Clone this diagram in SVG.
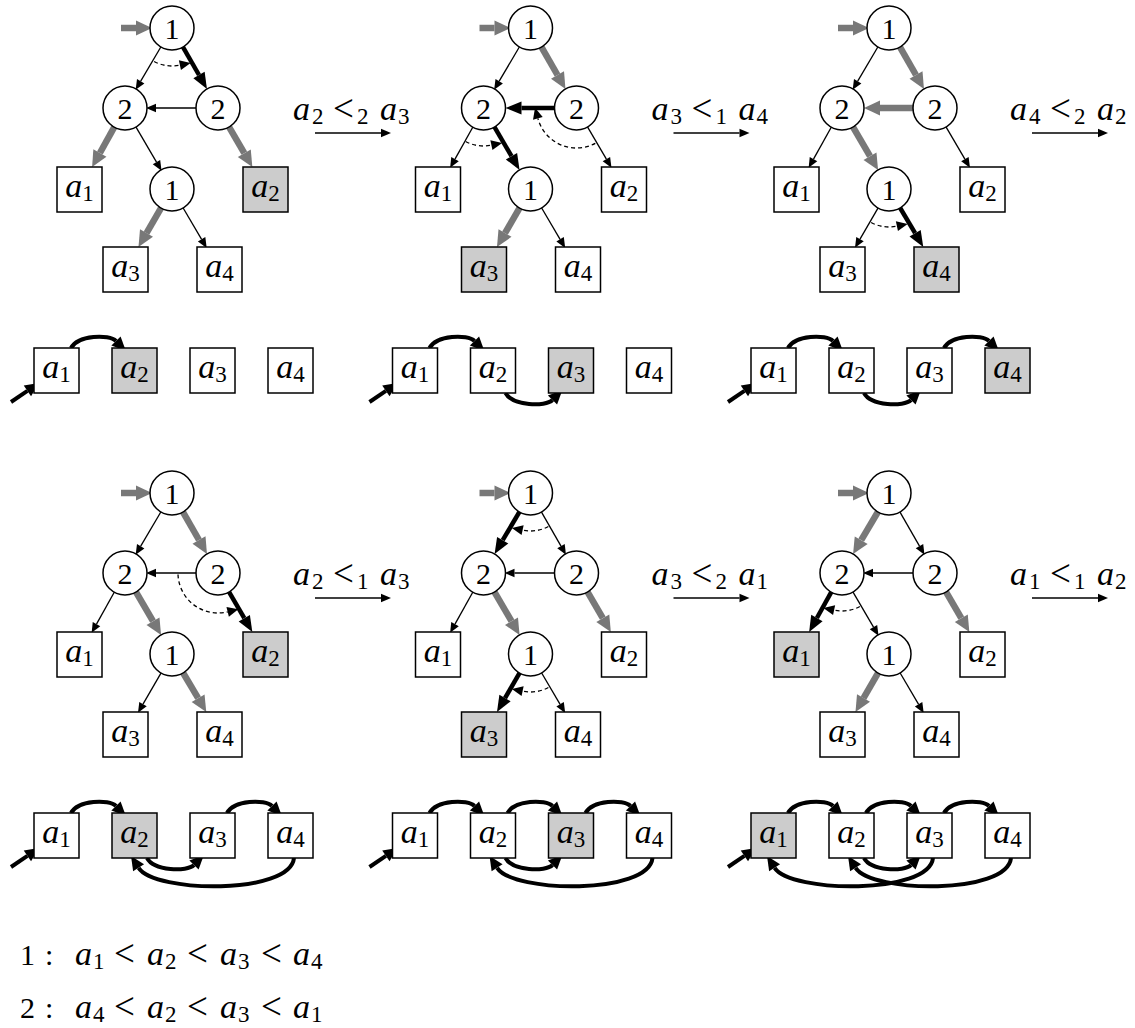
<svg xmlns="http://www.w3.org/2000/svg" width="1135" height="1028" viewBox="0 0 1135 1028">
<defs>
<style>
.c{fill:#fff;stroke:#000;stroke-width:1.5}
.b{fill:#fff;stroke:#000;stroke-width:1.5}
.g{fill:#ccc}
.t{stroke:#000;stroke-width:1.3;fill:none;marker-end:url(#ht)}
.k{stroke:#000;stroke-width:4.5;fill:none;marker-end:url(#hk)}
.y{stroke:#787878;stroke-width:6.5;fill:none;marker-end:url(#hg)}
.d{stroke:#000;stroke-width:1.3;stroke-dasharray:4 3;fill:none;marker-end:url(#hd)}
.l{stroke:#000;stroke-width:4;fill:none;marker-end:url(#hl)}
text{font-family:"Liberation Serif","DejaVu Serif",serif;fill:#000}
.mid{text-anchor:middle}
.m{font-size:34px;font-style:italic}
.n{font-size:30px;font-style:normal}
.s{font-size:23px;font-style:normal}
.u{font-style:normal;font-size:37px}
</style>
<marker id="ht" markerUnits="userSpaceOnUse" orient="auto" refX="0" refY="0" markerWidth="12" markerHeight="12" overflow="visible"><path d="M0,-4.3 L10,0 L0,4.3 z" fill="#000"/></marker>
<marker id="hk" markerUnits="userSpaceOnUse" orient="auto" refX="0" refY="0" markerWidth="20" markerHeight="20" overflow="visible"><path d="M0,-6.5 L16,0 L0,6.5 z" fill="#000"/></marker>
<marker id="hg" markerUnits="userSpaceOnUse" orient="auto" refX="0" refY="0" markerWidth="20" markerHeight="20" overflow="visible"><path d="M0,-7.5 L16,0 L0,7.5 z" fill="#787878"/></marker>
<marker id="hd" markerUnits="userSpaceOnUse" orient="auto" refX="0" refY="0" markerWidth="12" markerHeight="12" overflow="visible"><path d="M0,-5 L11,0 L0,5 z" fill="#000"/></marker>
<marker id="hl" markerUnits="userSpaceOnUse" orient="auto" refX="0" refY="0" markerWidth="20" markerHeight="20" overflow="visible"><path d="M0,-6.5 L14,0 L0,6.5 z" fill="#000"/></marker>
</defs>
<rect width="1135" height="1028" fill="#fff"/>

<!-- Panel 1 -->
<g id="panel1" transform="translate(0,0)">
 <g id="p1-connectors">
  <line class="y" x1="121" y1="28" x2="136" y2="28"/>
  <line class="t" x1="162.9" y1="43.5" x2="140.7" y2="81.2"/>
  <line class="k" x1="181" y1="43.6" x2="199" y2="75"/>
  <line class="t" x1="200" y1="108" x2="156" y2="108"/>
  <line class="y" x1="116.2" y1="123.7" x2="99.9" y2="153"/>
  <line class="t" x1="134" y1="123.6" x2="156.5" y2="162.2"/>
  <line class="y" x1="227.1" y1="123.6" x2="244.3" y2="153.2"/>
  <line class="y" x1="163" y1="204.6" x2="146.5" y2="233.1"/>
  <line class="t" x1="181.1" y1="204.5" x2="201.6" y2="239.3"/>
  <path class="d" d="M154.16,61.55 A38,38 0 0 0 179.9,65.17"/>
  <line class="t" x1="315" y1="133" x2="381" y2="133"/>
  <path class="l" d="M11,402 L27.4,390.9"/>
  <path class="l" d="M71,348 C78,335 109,334 116,341"/>
 </g>
 <g id="p1-r"><circle class="c" cx="172" cy="28" r="22"/><text class="n mid" x="172" y="38.5">1</text></g>
 <g id="p1-l"><circle class="c" cx="125" cy="108" r="22"/><text class="n mid" x="125" y="118.5">2</text></g>
 <g id="p1-rt"><circle class="c" cx="218" cy="108" r="22"/><text class="n mid" x="218" y="118.5">2</text></g>
 <g id="p1-m"><circle class="c" cx="172" cy="189" r="22"/><text class="n mid" x="172" y="199.5">1</text></g>
 <g id="p1-a1"><rect class="b" x="57" y="167" width="45" height="45"/><text class="m mid" x="79.5" y="197">a<tspan class="s" dy="4">1</tspan></text></g>
 <g id="p1-a2"><rect class="b g" x="243" y="167" width="45" height="45"/><text class="m mid" x="265.5" y="197">a<tspan class="s" dy="4">2</tspan></text></g>
 <g id="p1-a3"><rect class="b" x="103" y="247" width="45" height="45"/><text class="m mid" x="125.5" y="277">a<tspan class="s" dy="4">3</tspan></text></g>
 <g id="p1-a4"><rect class="b" x="197" y="247" width="45" height="45"/><text class="m mid" x="219.5" y="277">a<tspan class="s" dy="4">4</tspan></text></g>
 <g id="p1-label"><text class="m" y="120"><tspan x="293">a</tspan><tspan class="s" x="312" dy="4">2</tspan><tspan class="u" x="333" dy="-3">&lt;</tspan><tspan class="s" x="357" dy="3">2</tspan><tspan x="380" dy="-4">a</tspan><tspan class="s" x="398" dy="4">3</tspan></text></g>
 <g id="p1-list1"><rect class="b" x="34" y="348" width="45" height="45"/><text class="m mid" x="56.5" y="378">a<tspan class="s" dy="4">1</tspan></text></g>
 <g id="p1-list2"><rect class="b g" x="112" y="348" width="45" height="45"/><text class="m mid" x="134.5" y="378">a<tspan class="s" dy="4">2</tspan></text></g>
 <g id="p1-list3"><rect class="b" x="190" y="348" width="45" height="45"/><text class="m mid" x="212.5" y="378">a<tspan class="s" dy="4">3</tspan></text></g>
 <g id="p1-list4"><rect class="b" x="268" y="348" width="45" height="45"/><text class="m mid" x="290.5" y="378">a<tspan class="s" dy="4">4</tspan></text></g>
</g>

<!-- Panel 2 -->
<g id="panel2" transform="translate(358.5,0)">
 <g id="p2-connectors">
  <line class="y" x1="121" y1="28" x2="136" y2="28"/>
  <line class="t" x1="162.9" y1="43.5" x2="140.7" y2="81.2"/>
  <line class="y" x1="181" y1="43.6" x2="199" y2="75"/>
  <line class="k" x1="200" y1="108" x2="163" y2="108"/>
  <line class="t" x1="116.2" y1="123.7" x2="96.5" y2="159.1"/>
  <line class="k" x1="134" y1="123.6" x2="153" y2="156.2"/>
  <line class="t" x1="227.1" y1="123.6" x2="247.9" y2="159.2"/>
  <line class="y" x1="163" y1="204.6" x2="146.5" y2="233.1"/>
  <line class="t" x1="181.1" y1="204.5" x2="201.6" y2="239.3"/>
  <path class="d" d="M107.16,141.55 A38,38 0 0 0 132.9,145.17"/>
  <path class="d" d="M236.78,143.32 A40,40 0 0 1 179.36,118.35"/>
  <line class="t" x1="315" y1="133" x2="381" y2="133"/>
  <path class="l" d="M11,402 L27.4,390.9"/>
  <path class="l" d="M71,348 C78,335 109,334 116,341"/>
  <path class="l" d="M147,393 C154,406 187,407 194,400"/>
 </g>
 <g id="p2-r"><circle class="c" cx="172" cy="28" r="22"/><text class="n mid" x="172" y="38.5">1</text></g>
 <g id="p2-l"><circle class="c" cx="125" cy="108" r="22"/><text class="n mid" x="125" y="118.5">2</text></g>
 <g id="p2-rt"><circle class="c" cx="218" cy="108" r="22"/><text class="n mid" x="218" y="118.5">2</text></g>
 <g id="p2-m"><circle class="c" cx="172" cy="189" r="22"/><text class="n mid" x="172" y="199.5">1</text></g>
 <g id="p2-a1"><rect class="b" x="57" y="167" width="45" height="45"/><text class="m mid" x="79.5" y="197">a<tspan class="s" dy="4">1</tspan></text></g>
 <g id="p2-a2"><rect class="b" x="243" y="167" width="45" height="45"/><text class="m mid" x="265.5" y="197">a<tspan class="s" dy="4">2</tspan></text></g>
 <g id="p2-a3"><rect class="b g" x="103" y="247" width="45" height="45"/><text class="m mid" x="125.5" y="277">a<tspan class="s" dy="4">3</tspan></text></g>
 <g id="p2-a4"><rect class="b" x="197" y="247" width="45" height="45"/><text class="m mid" x="219.5" y="277">a<tspan class="s" dy="4">4</tspan></text></g>
 <g id="p2-label"><text class="m" y="120"><tspan x="293">a</tspan><tspan class="s" x="312" dy="4">3</tspan><tspan class="u" x="333" dy="-3">&lt;</tspan><tspan class="s" x="357" dy="3">1</tspan><tspan x="380" dy="-4">a</tspan><tspan class="s" x="398" dy="4">4</tspan></text></g>
 <g id="p2-list1"><rect class="b" x="34" y="348" width="45" height="45"/><text class="m mid" x="56.5" y="378">a<tspan class="s" dy="4">1</tspan></text></g>
 <g id="p2-list2"><rect class="b" x="112" y="348" width="45" height="45"/><text class="m mid" x="134.5" y="378">a<tspan class="s" dy="4">2</tspan></text></g>
 <g id="p2-list3"><rect class="b g" x="190" y="348" width="45" height="45"/><text class="m mid" x="212.5" y="378">a<tspan class="s" dy="4">3</tspan></text></g>
 <g id="p2-list4"><rect class="b" x="268" y="348" width="45" height="45"/><text class="m mid" x="290.5" y="378">a<tspan class="s" dy="4">4</tspan></text></g>
</g>

<!-- Panel 3 -->
<g id="panel3" transform="translate(717,0)">
 <g id="p3-connectors">
  <line class="y" x1="121" y1="28" x2="136" y2="28"/>
  <line class="t" x1="162.9" y1="43.5" x2="140.7" y2="81.2"/>
  <line class="y" x1="181" y1="43.6" x2="199" y2="75"/>
  <line class="y" x1="200" y1="108" x2="163" y2="108"/>
  <line class="t" x1="116.2" y1="123.7" x2="96.5" y2="159.1"/>
  <line class="y" x1="134" y1="123.6" x2="153" y2="156.2"/>
  <line class="t" x1="227.1" y1="123.6" x2="247.9" y2="159.2"/>
  <line class="t" x1="163" y1="204.6" x2="143" y2="239.2"/>
  <line class="k" x1="181.1" y1="204.5" x2="198.1" y2="233.2"/>
  <path class="d" d="M154.16,222.55 A38,38 0 0 0 179.9,226.17"/>
  <line class="t" x1="315" y1="133" x2="381" y2="133"/>
  <path class="l" d="M11,402 L27.4,390.9"/>
  <path class="l" d="M71,348 C78,335 109,334 116,341"/>
  <path class="l" d="M147,393 C154,406 187,407 194,400"/>
  <path class="l" d="M227,348 C234,335 265,334 272,341"/>
 </g>
 <g id="p3-r"><circle class="c" cx="172" cy="28" r="22"/><text class="n mid" x="172" y="38.5">1</text></g>
 <g id="p3-l"><circle class="c" cx="125" cy="108" r="22"/><text class="n mid" x="125" y="118.5">2</text></g>
 <g id="p3-rt"><circle class="c" cx="218" cy="108" r="22"/><text class="n mid" x="218" y="118.5">2</text></g>
 <g id="p3-m"><circle class="c" cx="172" cy="189" r="22"/><text class="n mid" x="172" y="199.5">1</text></g>
 <g id="p3-a1"><rect class="b" x="57" y="167" width="45" height="45"/><text class="m mid" x="79.5" y="197">a<tspan class="s" dy="4">1</tspan></text></g>
 <g id="p3-a2"><rect class="b" x="243" y="167" width="45" height="45"/><text class="m mid" x="265.5" y="197">a<tspan class="s" dy="4">2</tspan></text></g>
 <g id="p3-a3"><rect class="b" x="103" y="247" width="45" height="45"/><text class="m mid" x="125.5" y="277">a<tspan class="s" dy="4">3</tspan></text></g>
 <g id="p3-a4"><rect class="b g" x="197" y="247" width="45" height="45"/><text class="m mid" x="219.5" y="277">a<tspan class="s" dy="4">4</tspan></text></g>
 <g id="p3-label"><text class="m" y="120"><tspan x="293">a</tspan><tspan class="s" x="312" dy="4">4</tspan><tspan class="u" x="333" dy="-3">&lt;</tspan><tspan class="s" x="357" dy="3">2</tspan><tspan x="380" dy="-4">a</tspan><tspan class="s" x="398" dy="4">2</tspan></text></g>
 <g id="p3-list1"><rect class="b" x="34" y="348" width="45" height="45"/><text class="m mid" x="56.5" y="378">a<tspan class="s" dy="4">1</tspan></text></g>
 <g id="p3-list2"><rect class="b" x="112" y="348" width="45" height="45"/><text class="m mid" x="134.5" y="378">a<tspan class="s" dy="4">2</tspan></text></g>
 <g id="p3-list3"><rect class="b" x="190" y="348" width="45" height="45"/><text class="m mid" x="212.5" y="378">a<tspan class="s" dy="4">3</tspan></text></g>
 <g id="p3-list4"><rect class="b g" x="268" y="348" width="45" height="45"/><text class="m mid" x="290.5" y="378">a<tspan class="s" dy="4">4</tspan></text></g>
</g>

<!-- Panel 4 -->
<g id="panel4" transform="translate(0,465)">
 <g id="p4-connectors">
  <line class="y" x1="121" y1="28" x2="136" y2="28"/>
  <line class="t" x1="162.9" y1="43.5" x2="140.7" y2="81.2"/>
  <line class="y" x1="181" y1="43.6" x2="199" y2="75"/>
  <line class="t" x1="200" y1="108" x2="156" y2="108"/>
  <line class="t" x1="116.2" y1="123.7" x2="96.5" y2="159.1"/>
  <line class="y" x1="134" y1="123.6" x2="153" y2="156.2"/>
  <line class="k" x1="227.1" y1="123.6" x2="244.3" y2="153.2"/>
  <line class="t" x1="163" y1="204.6" x2="143" y2="239.2"/>
  <line class="y" x1="181.1" y1="204.5" x2="198.1" y2="233.2"/>
  <path class="d" d="M178.02,109.4 A40,40 0 0 0 227.68,146.81"/>
  <line class="t" x1="315" y1="133" x2="381" y2="133"/>
  <path class="l" d="M11,402 L27.4,390.9"/>
  <path class="l" d="M71,348 C78,335 109,334 116,341"/>
  <path class="l" d="M147,393 C154,406 187,407 194,400"/>
  <path class="l" d="M227,348 C234,335 265,334 272,341"/>
  <path class="l" d="M294,393 C290,430 154.8,428 138.6,402.8"/>
 </g>
 <g id="p4-r"><circle class="c" cx="172" cy="28" r="22"/><text class="n mid" x="172" y="38.5">1</text></g>
 <g id="p4-l"><circle class="c" cx="125" cy="108" r="22"/><text class="n mid" x="125" y="118.5">2</text></g>
 <g id="p4-rt"><circle class="c" cx="218" cy="108" r="22"/><text class="n mid" x="218" y="118.5">2</text></g>
 <g id="p4-m"><circle class="c" cx="172" cy="189" r="22"/><text class="n mid" x="172" y="199.5">1</text></g>
 <g id="p4-a1"><rect class="b" x="57" y="167" width="45" height="45"/><text class="m mid" x="79.5" y="197">a<tspan class="s" dy="4">1</tspan></text></g>
 <g id="p4-a2"><rect class="b g" x="243" y="167" width="45" height="45"/><text class="m mid" x="265.5" y="197">a<tspan class="s" dy="4">2</tspan></text></g>
 <g id="p4-a3"><rect class="b" x="103" y="247" width="45" height="45"/><text class="m mid" x="125.5" y="277">a<tspan class="s" dy="4">3</tspan></text></g>
 <g id="p4-a4"><rect class="b" x="197" y="247" width="45" height="45"/><text class="m mid" x="219.5" y="277">a<tspan class="s" dy="4">4</tspan></text></g>
 <g id="p4-label"><text class="m" y="120"><tspan x="293">a</tspan><tspan class="s" x="312" dy="4">2</tspan><tspan class="u" x="333" dy="-3">&lt;</tspan><tspan class="s" x="357" dy="3">1</tspan><tspan x="380" dy="-4">a</tspan><tspan class="s" x="398" dy="4">3</tspan></text></g>
 <g id="p4-list1"><rect class="b" x="34" y="348" width="45" height="45"/><text class="m mid" x="56.5" y="378">a<tspan class="s" dy="4">1</tspan></text></g>
 <g id="p4-list2"><rect class="b g" x="112" y="348" width="45" height="45"/><text class="m mid" x="134.5" y="378">a<tspan class="s" dy="4">2</tspan></text></g>
 <g id="p4-list3"><rect class="b" x="190" y="348" width="45" height="45"/><text class="m mid" x="212.5" y="378">a<tspan class="s" dy="4">3</tspan></text></g>
 <g id="p4-list4"><rect class="b" x="268" y="348" width="45" height="45"/><text class="m mid" x="290.5" y="378">a<tspan class="s" dy="4">4</tspan></text></g>
</g>

<!-- Panel 5 -->
<g id="panel5" transform="translate(358.5,465)">
 <g id="p5-connectors">
  <line class="y" x1="121" y1="28" x2="136" y2="28"/>
  <line class="k" x1="162.9" y1="43.5" x2="144.2" y2="75.2"/>
  <line class="t" x1="181" y1="43.6" x2="202.5" y2="81.1"/>
  <line class="t" x1="200" y1="108" x2="156" y2="108"/>
  <line class="t" x1="116.2" y1="123.7" x2="96.5" y2="159.1"/>
  <line class="y" x1="134" y1="123.6" x2="153" y2="156.2"/>
  <line class="y" x1="227.1" y1="123.6" x2="244.3" y2="153.2"/>
  <line class="k" x1="163" y1="204.6" x2="146.5" y2="233.1"/>
  <line class="t" x1="181.1" y1="204.5" x2="201.6" y2="239.3"/>
  <path class="d" d="M189.84,61.55 A38,38 0 0 1 164.1,65.17"/>
  <path class="d" d="M189.84,222.55 A38,38 0 0 1 164.1,226.17"/>
  <line class="t" x1="315" y1="133" x2="381" y2="133"/>
  <path class="l" d="M11,402 L27.4,390.9"/>
  <path class="l" d="M71,348 C78,335 109,334 116,341"/>
  <path class="l" d="M149,348 C156,335 187,334 194,341"/>
  <path class="l" d="M227,348 C234,335 265,334 272,341"/>
  <path class="l" d="M147,393 C154,406 187,407 194,400"/>
  <path class="l" d="M294,393 C290,430 154.8,428 138.6,402.8"/>
 </g>
 <g id="p5-r"><circle class="c" cx="172" cy="28" r="22"/><text class="n mid" x="172" y="38.5">1</text></g>
 <g id="p5-l"><circle class="c" cx="125" cy="108" r="22"/><text class="n mid" x="125" y="118.5">2</text></g>
 <g id="p5-rt"><circle class="c" cx="218" cy="108" r="22"/><text class="n mid" x="218" y="118.5">2</text></g>
 <g id="p5-m"><circle class="c" cx="172" cy="189" r="22"/><text class="n mid" x="172" y="199.5">1</text></g>
 <g id="p5-a1"><rect class="b" x="57" y="167" width="45" height="45"/><text class="m mid" x="79.5" y="197">a<tspan class="s" dy="4">1</tspan></text></g>
 <g id="p5-a2"><rect class="b" x="243" y="167" width="45" height="45"/><text class="m mid" x="265.5" y="197">a<tspan class="s" dy="4">2</tspan></text></g>
 <g id="p5-a3"><rect class="b g" x="103" y="247" width="45" height="45"/><text class="m mid" x="125.5" y="277">a<tspan class="s" dy="4">3</tspan></text></g>
 <g id="p5-a4"><rect class="b" x="197" y="247" width="45" height="45"/><text class="m mid" x="219.5" y="277">a<tspan class="s" dy="4">4</tspan></text></g>
 <g id="p5-label"><text class="m" y="120"><tspan x="293">a</tspan><tspan class="s" x="312" dy="4">3</tspan><tspan class="u" x="333" dy="-3">&lt;</tspan><tspan class="s" x="357" dy="3">2</tspan><tspan x="380" dy="-4">a</tspan><tspan class="s" x="398" dy="4">1</tspan></text></g>
 <g id="p5-list1"><rect class="b" x="34" y="348" width="45" height="45"/><text class="m mid" x="56.5" y="378">a<tspan class="s" dy="4">1</tspan></text></g>
 <g id="p5-list2"><rect class="b" x="112" y="348" width="45" height="45"/><text class="m mid" x="134.5" y="378">a<tspan class="s" dy="4">2</tspan></text></g>
 <g id="p5-list3"><rect class="b g" x="190" y="348" width="45" height="45"/><text class="m mid" x="212.5" y="378">a<tspan class="s" dy="4">3</tspan></text></g>
 <g id="p5-list4"><rect class="b" x="268" y="348" width="45" height="45"/><text class="m mid" x="290.5" y="378">a<tspan class="s" dy="4">4</tspan></text></g>
</g>

<!-- Panel 6 -->
<g id="panel6" transform="translate(717,465)">
 <g id="p6-connectors">
  <line class="y" x1="121" y1="28" x2="136" y2="28"/>
  <line class="y" x1="162.9" y1="43.5" x2="144.2" y2="75.2"/>
  <line class="t" x1="181" y1="43.6" x2="202.5" y2="81.1"/>
  <line class="t" x1="200" y1="108" x2="156" y2="108"/>
  <line class="k" x1="116.2" y1="123.7" x2="99.9" y2="153"/>
  <line class="t" x1="134" y1="123.6" x2="156.5" y2="162.2"/>
  <line class="y" x1="227.1" y1="123.6" x2="244.3" y2="153.2"/>
  <line class="y" x1="163" y1="204.6" x2="146.5" y2="233.1"/>
  <line class="t" x1="181.1" y1="204.5" x2="201.6" y2="239.3"/>
  <path class="d" d="M142.84,141.55 A38,38 0 0 1 117.1,145.17"/>
  <line class="t" x1="315" y1="133" x2="381" y2="133"/>
  <path class="l" d="M11,402 L27.4,390.9"/>
  <path class="l" d="M71,348 C78,335 109,334 116,341"/>
  <path class="l" d="M149,348 C156,335 187,334 194,341"/>
  <path class="l" d="M227,348 C234,335 265,334 272,341"/>
  <path class="l" d="M147,393 C154,406 187,407 194,400"/>
  <path class="l" d="M216,393 C212,430 73.8,428 57.6,402.8"/>
  <path class="l" d="M294,393 C290,430 154.8,428 138.6,402.8"/>
 </g>
 <g id="p6-r"><circle class="c" cx="172" cy="28" r="22"/><text class="n mid" x="172" y="38.5">1</text></g>
 <g id="p6-l"><circle class="c" cx="125" cy="108" r="22"/><text class="n mid" x="125" y="118.5">2</text></g>
 <g id="p6-rt"><circle class="c" cx="218" cy="108" r="22"/><text class="n mid" x="218" y="118.5">2</text></g>
 <g id="p6-m"><circle class="c" cx="172" cy="189" r="22"/><text class="n mid" x="172" y="199.5">1</text></g>
 <g id="p6-a1"><rect class="b g" x="57" y="167" width="45" height="45"/><text class="m mid" x="79.5" y="197">a<tspan class="s" dy="4">1</tspan></text></g>
 <g id="p6-a2"><rect class="b" x="243" y="167" width="45" height="45"/><text class="m mid" x="265.5" y="197">a<tspan class="s" dy="4">2</tspan></text></g>
 <g id="p6-a3"><rect class="b" x="103" y="247" width="45" height="45"/><text class="m mid" x="125.5" y="277">a<tspan class="s" dy="4">3</tspan></text></g>
 <g id="p6-a4"><rect class="b" x="197" y="247" width="45" height="45"/><text class="m mid" x="219.5" y="277">a<tspan class="s" dy="4">4</tspan></text></g>
 <g id="p6-label"><text class="m" y="120"><tspan x="293">a</tspan><tspan class="s" x="312" dy="4">1</tspan><tspan class="u" x="333" dy="-3">&lt;</tspan><tspan class="s" x="357" dy="3">1</tspan><tspan x="380" dy="-4">a</tspan><tspan class="s" x="398" dy="4">2</tspan></text></g>
 <g id="p6-list1"><rect class="b g" x="34" y="348" width="45" height="45"/><text class="m mid" x="56.5" y="378">a<tspan class="s" dy="4">1</tspan></text></g>
 <g id="p6-list2"><rect class="b" x="112" y="348" width="45" height="45"/><text class="m mid" x="134.5" y="378">a<tspan class="s" dy="4">2</tspan></text></g>
 <g id="p6-list3"><rect class="b" x="190" y="348" width="45" height="45"/><text class="m mid" x="212.5" y="378">a<tspan class="s" dy="4">3</tspan></text></g>
 <g id="p6-list4"><rect class="b" x="268" y="348" width="45" height="45"/><text class="m mid" x="290.5" y="378">a<tspan class="s" dy="4">4</tspan></text></g>
</g>

<!-- Legend -->
<g id="legend">
 <text class="m" y="965"><tspan class="n" x="20">1</tspan><tspan class="n" x="45">:</tspan><tspan x="75">a</tspan><tspan class="s" x="93" dy="4">1</tspan><tspan class="u" x="114" dy="-3">&lt;</tspan><tspan x="147" dy="-1">a</tspan><tspan class="s" x="165" dy="4">2</tspan><tspan class="u" x="187" dy="-3">&lt;</tspan><tspan x="220" dy="-1">a</tspan><tspan class="s" x="238" dy="4">3</tspan><tspan class="u" x="261" dy="-3">&lt;</tspan><tspan x="293" dy="-1">a</tspan><tspan class="s" x="311" dy="4">4</tspan></text>
 <text class="m" y="1018"><tspan class="n" x="20">2</tspan><tspan class="n" x="45">:</tspan><tspan x="75">a</tspan><tspan class="s" x="93" dy="4">4</tspan><tspan class="u" x="114" dy="-3">&lt;</tspan><tspan x="147" dy="-1">a</tspan><tspan class="s" x="165" dy="4">2</tspan><tspan class="u" x="187" dy="-3">&lt;</tspan><tspan x="220" dy="-1">a</tspan><tspan class="s" x="238" dy="4">3</tspan><tspan class="u" x="261" dy="-3">&lt;</tspan><tspan x="293" dy="-1">a</tspan><tspan class="s" x="311" dy="4">1</tspan></text>
</g>
</svg>
